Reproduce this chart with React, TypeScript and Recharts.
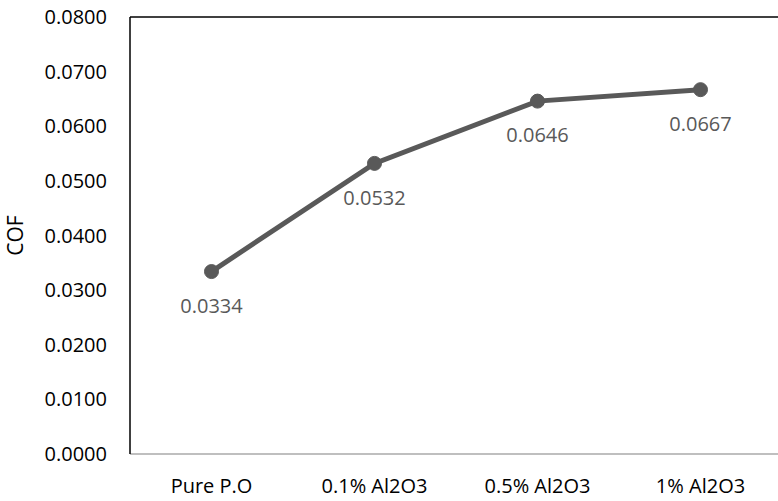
import * as React from 'react';
import {
  LineChart,
  Line,
  XAxis,
  YAxis,
  ReferenceLine,
  LabelList,
  Label,
} from 'recharts';

// categories and measured COF values
const categories = ['Pure P.O', '0.1% Al2O3', '0.5% Al2O3', '1% Al2O3'];
const cofValues = [0.0334, 0.0532, 0.0646, 0.0667];
const yTicks = [0, 0.01, 0.02, 0.03, 0.04, 0.05, 0.06, 0.07, 0.08];

const data = categories.map((name, i) => ({ name, cof: cofValues[i] }));

const FONT = '"Open Sans", sans-serif';
const LINE_COLOR = '#595959';

function YTitle(props: any) {
  const vb = props.viewBox || {};
  const cx = (vb.x || 0) + 15;
  const cy = (vb.y || 0) + (vb.height || 0) / 2;
  return (
    <text
      x={cx}
      y={cy}
      transform={`rotate(-90, ${cx}, ${cy})`}
      textAnchor="middle"
      dominantBaseline="central"
      fontFamily={FONT}
      fontSize={21}
      fill="#000"
    >
      COF
    </text>
  );
}

export default function App() {
  return (
    <div
      style={{
        position: 'absolute',
        left: 0,
        top: 0,
        width: 778,
        height: 501,
        overflow: 'hidden',
        background: '#fff',
      }}
    >
      <LineChart
        width={782}
        height={501}
        data={data}
        margin={{ top: 17, right: 0, left: 0, bottom: 0 }}
      >
        <XAxis
          dataKey="name"
          height={47}
          padding={{ left: 81.5, right: 81.5 }}
          axisLine={{ stroke: '#bfbfbf', strokeWidth: 2 }}
          tickLine={false}
          tickSize={6}
          tickMargin={19}
          tick={{ fontSize: 20, fill: '#000', fontFamily: FONT }}
          interval={0}
        />
        <YAxis
          width={130}
          domain={[0, 0.08]}
          ticks={yTicks}
          tickFormatter={(v: number) => v.toFixed(4)}
          axisLine={{ stroke: '#000', strokeWidth: 1.5 }}
          tickLine={false}
          tickSize={6}
          tickMargin={17}
          tick={{ fontSize: 20, fill: '#000', fontFamily: FONT }}
        >
          <Label content={<YTitle />} />
        </YAxis>
        <ReferenceLine y={0.08} stroke="#000" strokeWidth={1.5} />
        <Line
          type="linear"
          dataKey="cof"
          stroke={LINE_COLOR}
          strokeWidth={5}
          dot={{ r: 7, fill: LINE_COLOR, stroke: LINE_COLOR, strokeWidth: 1 }}
          activeDot={false}
          isAnimationActive={false}
        >
          <LabelList
            dataKey="cof"
            position="bottom"
            offset={27}
            formatter={(v: any) => Number(v).toFixed(4)}
            style={{ fontSize: 20, fill: LINE_COLOR, fontFamily: FONT }}
          />
        </Line>
      </LineChart>
    </div>
  );
}
